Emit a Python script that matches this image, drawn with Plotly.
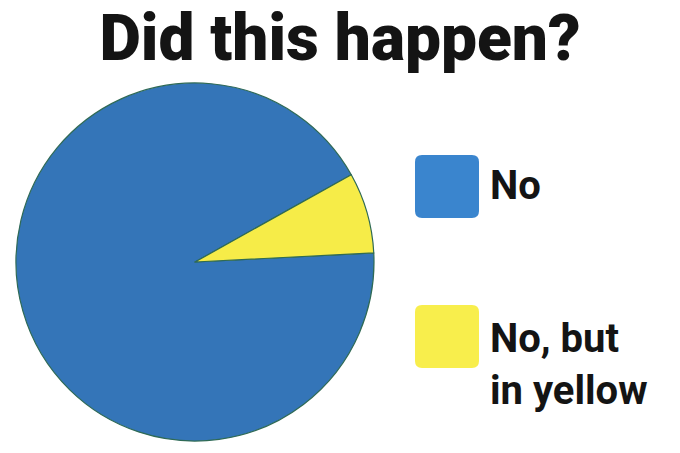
import plotly.graph_objects as go

W, H = 680, 453

title_text = "Did this happen?"
labels = ["No", "No, but in yellow"]
values = [92.7, 7.3]
pie_colors = ["#3475B8", "#F6EC48"]
legend_colors = ["#3A85CE", "#F8EE4C"]

FONT = "Roboto, Liberation Sans, sans-serif"


def px(x):
    return x / W


def py(y):
    return 1 - y / H


fig = go.Figure()
fig.add_trace(go.Pie(
    labels=labels,
    values=values,
    sort=False,
    direction="clockwise",
    rotation=87.1,
    textinfo="none",
    hoverinfo="label+percent",
    marker=dict(colors=pie_colors, line=dict(color="#2F6A55", width=1.2)),
    domain=dict(x=[px(16), px(374)], y=[py(441), py(83)]),
    showlegend=False,
))


def rounded_rect(x0, y0, x1, y1, r):
    def P(x, y):
        return f"{px(x):.5f},{py(y):.5f}"
    return (f"M {P(x0 + r, y0)} L {P(x1 - r, y0)} Q {P(x1, y0)} {P(x1, y0 + r)} "
            f"L {P(x1, y1 - r)} Q {P(x1, y1)} {P(x1 - r, y1)} "
            f"L {P(x0 + r, y1)} Q {P(x0, y1)} {P(x0, y1 - r)} "
            f"L {P(x0, y0 + r)} Q {P(x0, y0)} {P(x0 + r, y0)} Z")


legend_box_top = [155, 305]
legend_text_top = [160, 313]
shapes = []
annotations = []
for i, lab in enumerate(labels):
    top = legend_box_top[i]
    shapes.append(dict(
        type="path", xref="paper", yref="paper",
        path=rounded_rect(415, top, 479, top + 63, 7),
        fillcolor=legend_colors[i], line=dict(width=0),
    ))
    text = lab.replace("but ", "but<br>")
    annotations.append(dict(
        text=text, xref="paper", yref="paper",
        x=px(488), y=py(legend_text_top[i]), xanchor="left", yanchor="top",
        showarrow=False, align="left",
        font=dict(family=FONT, size=40, color="#141414", weight=700),
    ))

fig.update_layout(
    width=W, height=H,
    margin=dict(l=0, r=0, t=0, b=0),
    paper_bgcolor="white", plot_bgcolor="white",
    title=dict(
        text=title_text, x=0.5, xanchor="center",
        y=py(38), yanchor="middle",
        font=dict(family=FONT, size=64, color="#141414", weight=900),
    ),
    shapes=shapes,
    annotations=annotations,
)

fig.write_html("out.html")
